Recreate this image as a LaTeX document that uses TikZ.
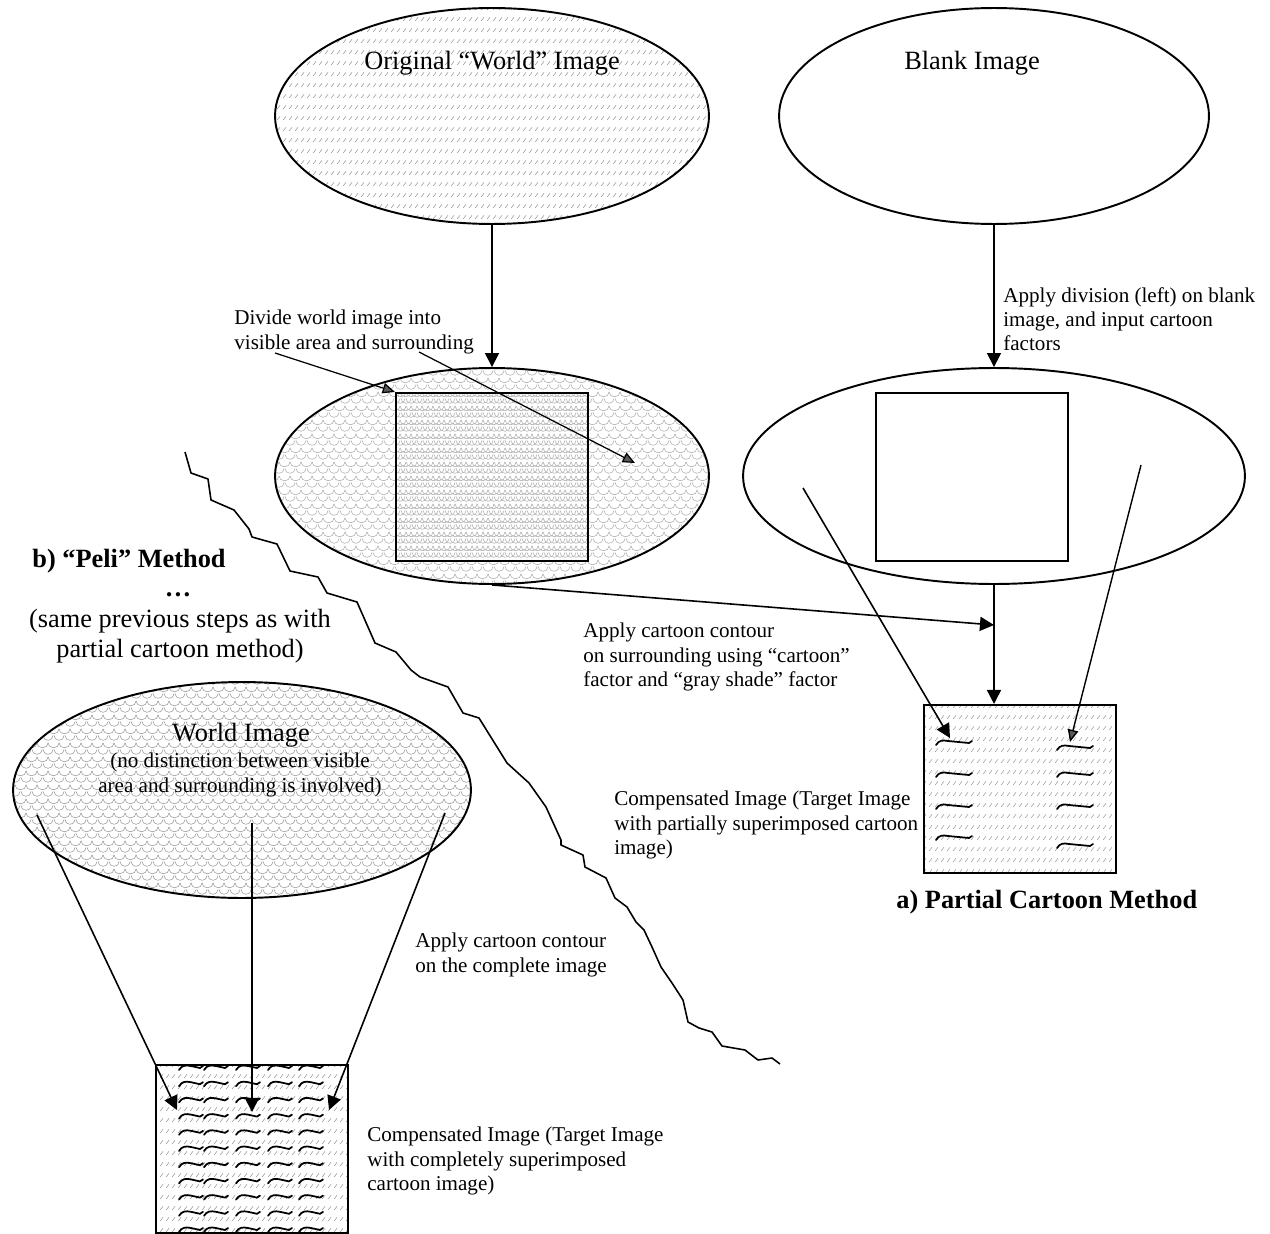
\documentclass[tikz,border=0pt]{standalone}
\usepackage{fontspec}
\setmainfont{Liberation Serif}
\usetikzlibrary{arrows.meta,shapes.geometric,patterns}

% light texture of short slashes (world image, cartoon image)
\pgfdeclarepatternformonly{slashrows}{\pgfqpoint{0pt}{0pt}}{\pgfqpoint{3.5pt}{6pt}}{\pgfqpoint{3.5pt}{6pt}}{%
  \pgfsetlinewidth{0.35pt}%
  \pgfpathmoveto{\pgfqpoint{0.8pt}{1.2pt}}%
  \pgfpathlineto{\pgfqpoint{2.6pt}{3.4pt}}%
  \pgfusepath{stroke}}
% fish-scale mesh (divided image)
\pgfdeclarepatternformonly{scales}{\pgfqpoint{0pt}{0pt}}{\pgfqpoint{6pt}{8pt}}{\pgfqpoint{6pt}{8pt}}{%
  \pgfsetlinewidth{0.35pt}%
  \pgfpathmoveto{\pgfqpoint{0pt}{4pt}}\pgfpatharc{180}{360}{3pt}%
  \pgfpathmoveto{\pgfqpoint{-3pt}{8pt}}\pgfpatharc{180}{360}{3pt}%
  \pgfpathmoveto{\pgfqpoint{3pt}{8pt}}\pgfpatharc{180}{360}{3pt}%
  \pgfusepath{stroke}}

% one cartoon stroke: x, y, length
\newcommand{\wig}[3]{\draw[wiggle] (#1,#2+2) .. controls (#1+3,#2-3) and (#1+7,#2-3) .. (#1+12,#2-2) -- (#1+#3-3,#2) -- (#1+#3,#2-2);}

\begin{document}
\begin{tikzpicture}[x=0.02cm,y=-0.02cm,
  blob/.style={ellipse,draw,line width=1.1pt,inner sep=0pt,minimum width=8.68cm,minimum height=4.32cm},
  frame/.style={draw,line width=1.2pt,inner sep=0pt,minimum width=3.84cm,minimum height=3.36cm},
  dashfill/.style={pattern=slashrows,pattern color=gray!75},
  meshfill/.style={pattern=scales,pattern color=gray!60},
  note/.style={font=\fontsize{12}{13.8}\selectfont,align=left,inner sep=0pt},
  head/.style={font=\fontsize{15}{17.3}\selectfont,inner sep=0pt},
  title/.style={font=\fontsize{15}{17.3}\selectfont\bfseries,inner sep=0pt},
  arr/.style={-{Triangle[length=8pt,width=8pt]},line width=0.9pt},
  thinarr/.style={-{Triangle[length=7pt,width=6pt,fill=black!65]},line width=0.7pt},
  wiggle/.style={line width=1pt,line cap=round,line join=round}]
\useasboundingbox (0,0) rectangle (1270,1233);

% ================ a) partial cartoon method ================
% world image and blank image
\node[blob,dashfill] (world) at (492,116) {};
\node[head] at (492,63) {Original “World” Image};
\node[blob,minimum width=8.6cm] (blank) at (994,116) {};
\node[head] at (972,63) {Blank Image};

% divided images
\node[blob,meshfill] (split) at (492,476) {};
\node[frame,meshfill] (visA) at (492,477) {};
\node[blob,minimum width=10.04cm] (parts) at (994,476) {};
\node[frame] (visB) at (972,477) {};

\draw[arr] (world.south) -- (split.north);
\draw[arr] (blank.south) -- (parts.north);

\node[note,anchor=north west] (divtxt) at (234,310) {Divide world image into\\visible area and surrounding};
\coordinate (d1) at (275,353);
\coordinate (d2) at (419,352);
\coordinate (d2e) at (635,463);
\draw[thinarr] (d1) -- (visA.north west);
\draw[thinarr] (d2) -- (d2e);

\node[note,anchor=north west] (blanktxt) at (1003,287) {Apply division (left) on blank\\image, and input cartoon\\factors};

% target image (partial)
\node[frame,dashfill] (target) at (1020,789) {};
\coordinate (hit) at (parts.south |- 0,625);
\draw[arr] (parts.south) -- (parts.south |- target.north);
\draw[arr] (split.south) -- (hit);
\node[note,anchor=north west] (contxt) at (583,623) {Apply cartoon contour\\on surrounding using “cartoon”\\factor and “gray shade” factor};

\foreach \y in {743,775,807,838}{\wig{936}{\y}{36}}
\foreach \y in {748,775,807,846}{\wig{1057}{\y}{36}}

\coordinate (cl) at (803,488);
\coordinate (cle) at (950,738);
\coordinate (cr) at (1141,465);
\coordinate (cre) at (1070,742);
\draw[arr] (cl) -- (cle);
\draw[thinarr,line width=0.8pt] (cr) -- (cre);

\node[note,anchor=north west] (parttxt) at (614,791) {Compensated Image (Target Image\\with partially superimposed cartoon\\image)};
\node[title,anchor=west] (atitle) at (896,902) {a) Partial Cartoon Method};

% ================ wavy divider ================
\draw[line width=0.9pt,line join=round] (185,452) -- (191,473) -- (208,479) -- (211,500) -- (234,510) -- (249,529)
  -- (252,537) -- (277,544) -- (290,571) -- (318,577) -- (327,593) -- (357,602) -- (375,643) -- (396,652)
  -- (411,670) -- (420,677) -- (448,687) -- (463,713) -- (479,718) -- (507,763) -- (529,783) -- (546,807)
  -- (561,840) -- (561,845) -- (583,855) -- (585,867) -- (606,878) -- (615,898) -- (627,907) -- (636,922)
  -- (644,930) -- (652,947) -- (661,967) -- (672,983) -- (683,1000) -- (688,1022) -- (699,1028)
  -- (712,1032) -- (722,1046) -- (745,1050) -- (758,1060) -- (772,1058) -- (780,1064);

% ================ b) Peli method ================
\node[title,anchor=west] (btitle) at (32,561) {b) “Peli” Method};
\node[title] (dots) at (178,595) {…};
\node[head,align=center] (btxt) at (180,636) {(same previous steps as with\\partial cartoon method)};

\node[blob,dashfill,pattern=scales,minimum width=9.16cm] (whole) at (242,790) {};
\node[head] (wholetxt) at (241,735) {World Image};
\node[note,align=center] (wholesub) at (240,775) {(no distinction between visible\\area and surrounding is involved)};

\node[frame,dashfill] (full) at (252,1149) {};
\foreach \r in {0,...,10}{
  \foreach \x in {179,204,236,268,299}{\wig{\x}{1068+16.2*\r}{24}}}

\coordinate (w1) at (37,815);
\coordinate (w1e) at (177,1110);
\coordinate (w2) at (252,823);
\coordinate (w2e) at (252,1112);
\coordinate (w3) at (445,813);
\coordinate (w3e) at (329,1110);
\draw[arr] (w1) -- (w1e);
\draw[arr] (w2) -- (w2e);
\draw[arr] (w3) -- (w3e);

\node[note,anchor=north west] (comptxt) at (415,933) {Apply cartoon contour\\on the complete image};
\node[note,anchor=north west] (fulltxt) at (367,1127) {Compensated Image (Target Image\\with completely superimposed\\cartoon image)};
\end{tikzpicture}
\end{document}
